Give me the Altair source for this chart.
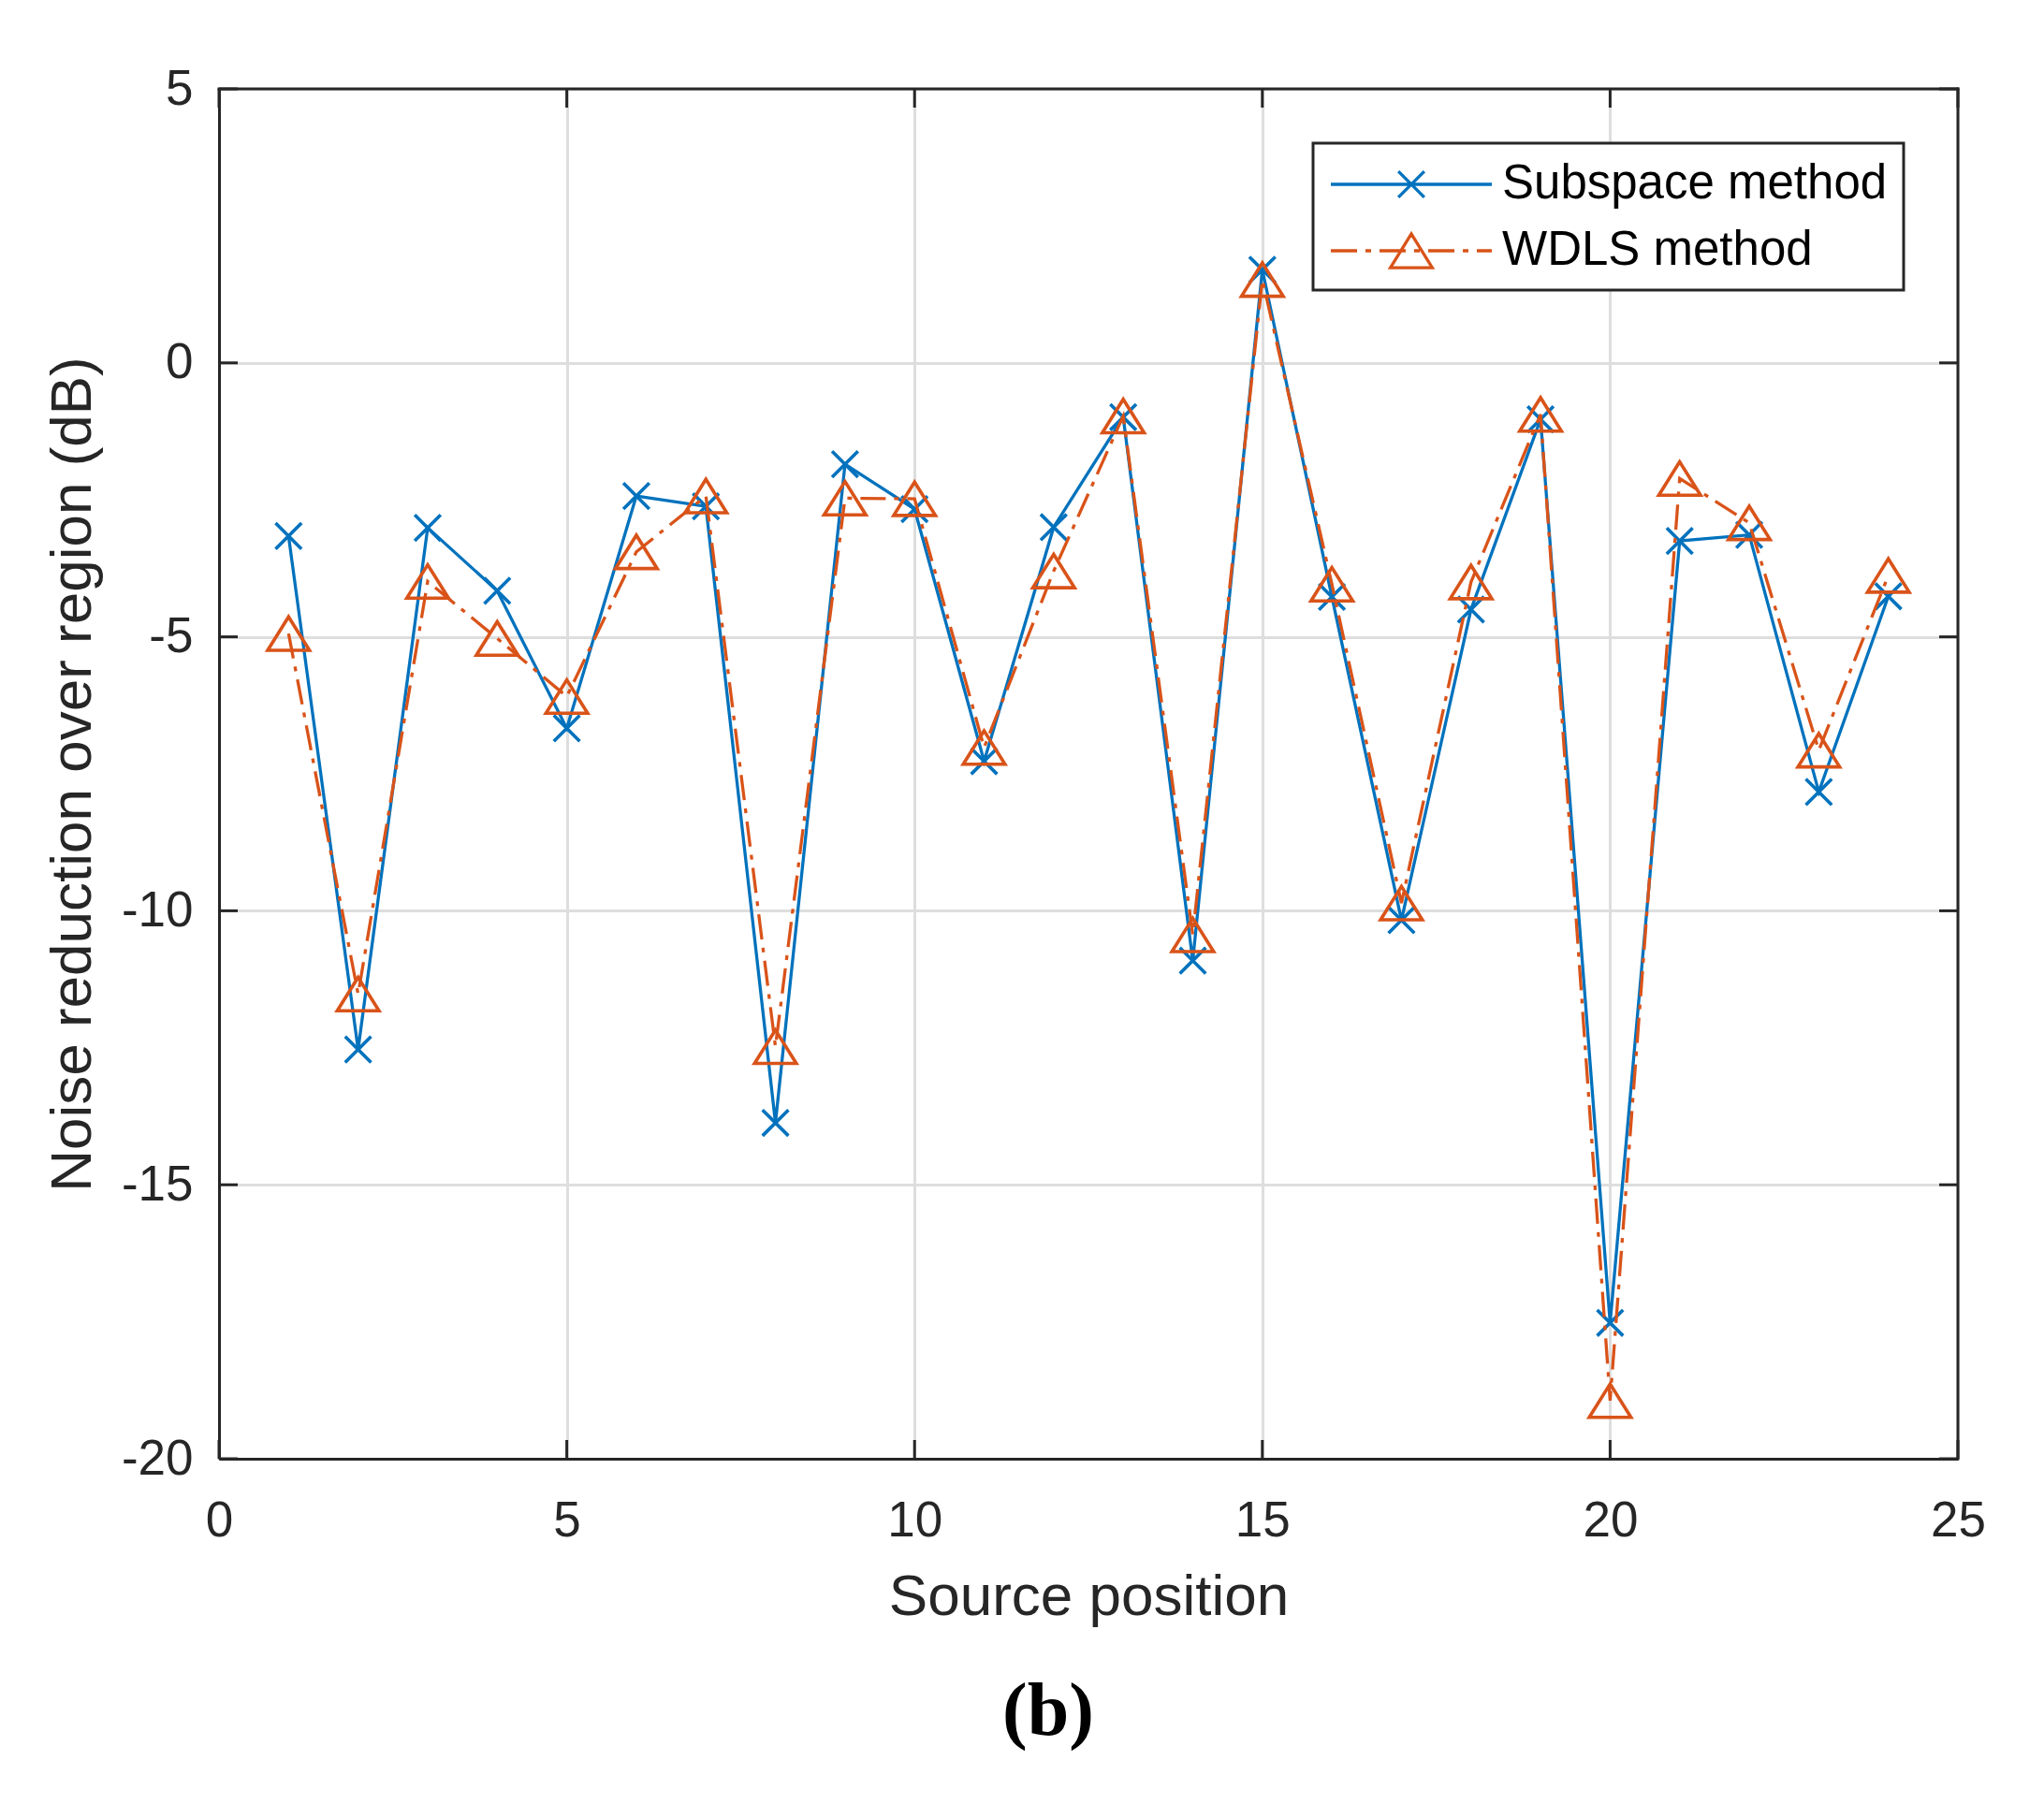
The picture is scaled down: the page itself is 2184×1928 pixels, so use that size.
import altair as alt
import pandas as pd

# ---- data ----
positions = list(range(1, 25))
subspace = [-3.16, -12.53, -3.01, -4.16, -6.67, -2.43, -2.62, -13.87, -1.85, -2.67,
            -7.27, -3.00, -0.99, -10.91, 1.70, -4.27, -10.17, -4.50, -1.03, -17.52,
            -3.25, -3.14, -7.83, -4.26]
wdls = [-4.94, -11.52, -3.99, -5.03, -6.09, -3.45, -2.43, -12.48, -2.47, -2.48,
        -7.02, -3.80, -0.97, -10.44, 1.52, -4.04, -9.86, -4.00, -0.94, -18.94,
        -2.11, -2.92, -7.07, -3.88]
series_names = ["Subspace method", "WDLS method"]
series_colors = ["#0072BD", "#D95319"]
x_ticks = [0, 5, 10, 15, 20, 25]
y_ticks = [-20, -15, -10, -5, 0, 5]

# ---- styling ----
W, H = 1858, 1464
AX = "#262626"
FONT = "Liberation Sans"
TICK = 20
LABEL_EXPR = "datum.value < 0 ? '-' + (-datum.value) : '' + datum.value"

X_MARK = "M-1,-1L1,1M-1,1L1,-1"
TRI_MARK = "M0,-0.8L-1,0.8L1,0.8Z"

# legend symbol paths (symbol size 50x50 -> r = 25; line half length 86 px = 3.44 r)
K = 86 / 25


def p(v):
    return f"{v * K:.3f}"


LEG_SUB = (f"M{p(-1)},0H{p(1)}"
           f"M{p(-0.161)},{p(-0.161)}L{p(0.161)},{p(0.161)}"
           f"M{p(-0.161)},{p(0.161)}L{p(0.161)},{p(-0.161)}")
_segs = [(-1, -0.674), (-0.570, -0.5), (-0.395, -0.070), (0.035, 0.105),
         (0.209, 0.535), (0.640, 0.709), (0.814, 1)]
LEG_WDLS = "".join(f"M{p(a)},0H{p(b)}" for a, b in _segs) + \
    f"M0,{p(-0.21)}L{p(-0.26)},{p(0.21)}L{p(0.26)},{p(0.21)}Z"

df = pd.DataFrame({
    "pos": positions * 2,
    "value": subspace + wdls,
    "series": [series_names[0]] * len(subspace) + [series_names[1]] * len(wdls),
})
xt = pd.DataFrame({"xv": x_ticks})
yt = pd.DataFrame({"yv": y_ticks})
one = pd.DataFrame({"k": [0]})

x_scale = alt.Scale(domain=[0, 25], nice=False, zero=False)
y_scale = alt.Scale(domain=[-20, 5], nice=False, zero=False)

X = alt.X("pos:Q", scale=x_scale,
          axis=alt.Axis(values=x_ticks, title="Source position", labelPadding=40,
                        titlePadding=24, labelFlush=False, labelOverlap=False,
                        labelExpr=LABEL_EXPR))
Y = alt.Y("value:Q", scale=y_scale,
          axis=alt.Axis(values=y_ticks, title="Noise reduction over region (dB)",
                        labelPadding=28, titlePadding=20, labelFlush=False,
                        labelOverlap=False, labelExpr=LABEL_EXPR))

base = alt.Chart(df).encode(x=X, y=Y)

line_sub = base.transform_filter(alt.datum.series == series_names[0]).mark_line(
    color=series_colors[0], strokeWidth=3.3)
pts_sub = base.transform_filter(alt.datum.series == series_names[0]).mark_point(
    shape=X_MARK, size=767, filled=False, strokeWidth=3.6, opacity=1,
    color=series_colors[0])
line_w = base.transform_filter(alt.datum.series == series_names[1]).mark_line(
    color=series_colors[1], strokeWidth=3.3, strokeDash=[27, 9, 5, 9])
pts_w = base.transform_filter(alt.datum.series == series_names[1]).mark_point(
    shape=TRI_MARK, size=1989, filled=False, strokeWidth=3.6, opacity=1,
    color=series_colors[1])

legend = alt.Legend(
    title=None, orient="none", legendX=1169, legendY=58,
    symbolSize=2500, symbolStrokeWidth=3.3, symbolOffset=61,
    labelOffset=70, labelFont=FONT, labelFontSize=51, labelColor="black",
    labelLimit=1000, padding=17, rowPadding=19,
    strokeColor=AX, fillColor="white",
)
legend_layer = alt.Chart(df).transform_filter("false").mark_point(
    filled=False, opacity=1, strokeWidth=3.3, size=2500).encode(
    color=alt.Color("series:N", scale=alt.Scale(domain=series_names, range=series_colors),
                    legend=legend),
    shape=alt.Shape("series:N", scale=alt.Scale(domain=series_names, range=[LEG_SUB, LEG_WDLS]),
                    legend=legend),
)

# inward ticks on all four sides and top/right frame
tick_left = alt.Chart(yt).mark_rule(color=AX, strokeWidth=3).encode(
    y=alt.Y("yv:Q", scale=y_scale), x=alt.value(0), x2=alt.value(TICK))
tick_right = alt.Chart(yt).mark_rule(color=AX, strokeWidth=3).encode(
    y=alt.Y("yv:Q", scale=y_scale), x=alt.value(W - TICK), x2=alt.value(W))
tick_bottom = alt.Chart(xt).mark_rule(color=AX, strokeWidth=3).encode(
    x=alt.X("xv:Q", scale=x_scale), y=alt.value(H - TICK), y2=alt.value(H))
tick_top = alt.Chart(xt).mark_rule(color=AX, strokeWidth=3).encode(
    x=alt.X("xv:Q", scale=x_scale), y=alt.value(0), y2=alt.value(TICK))
frame_top = alt.Chart(one).mark_rule(color=AX, strokeWidth=3, strokeCap="square").encode(
    x=alt.datum(0), x2=alt.datum(25), y=alt.datum(5))
frame_right = alt.Chart(one).mark_rule(color=AX, strokeWidth=3, strokeCap="square").encode(
    x=alt.datum(25), y=alt.datum(-20), y2=alt.datum(5))

chart = alt.layer(
    line_sub, pts_sub, line_w, pts_w,
    tick_left, tick_right, tick_bottom, tick_top, frame_top, frame_right,
    legend_layer,
).properties(
    width=W, height=H,
    title=alt.TitleParams(text="(b)", orient="bottom", anchor="middle",
                          font="Liberation Serif", fontSize=80, fontWeight="bold",
                          color="black", offset=54, dx=-43, frame="group"),
    padding={"left": 226, "top": 87, "right": 60, "bottom": 330},
    autosize=alt.AutoSizeParams(type="none"),
).configure_axis(
    labelFont=FONT, labelFontSize=53, labelColor=AX,
    titleFont=FONT, titleFontSize=62, titleColor=AX, titleFontWeight="normal",
    grid=True, gridColor="#DEDEDE", gridWidth=3,
    domain=True, domainColor=AX, domainWidth=3, ticks=False,
).configure_legend(
    strokeWidth=3,
).configure_view(stroke=None)

chart.save("out.html", embed_options={"renderer": "svg", "actions": False})
